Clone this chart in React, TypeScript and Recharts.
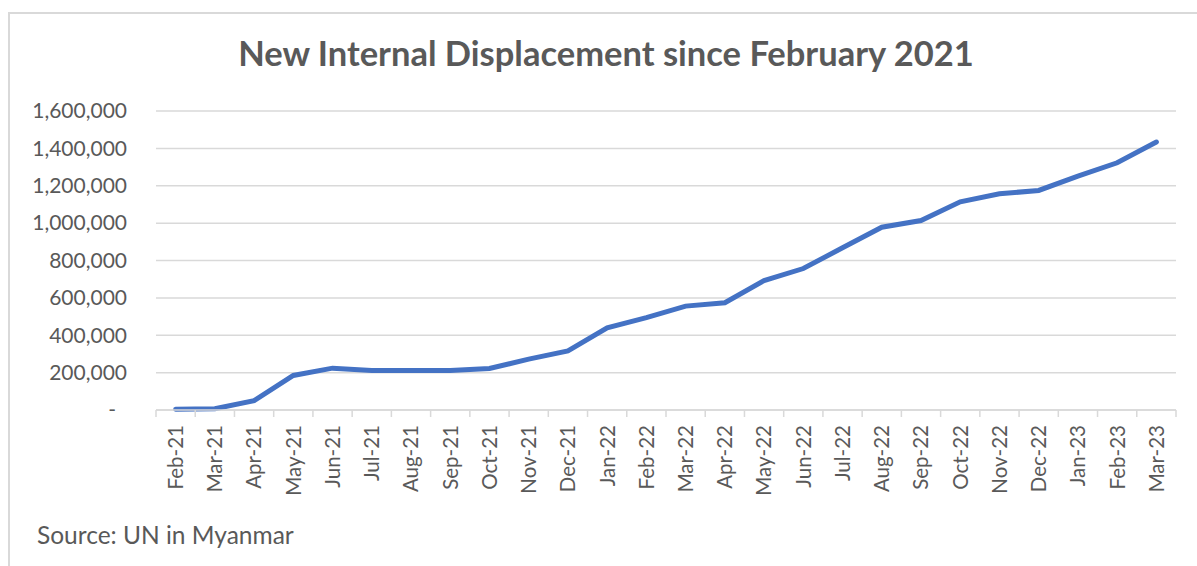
import React from "react";
import { CartesianGrid, Line, LineChart, XAxis, YAxis } from "recharts";

const months = [
  "Feb-21", "Mar-21", "Apr-21", "May-21", "Jun-21", "Jul-21", "Aug-21", "Sep-21", "Oct-21",
  "Nov-21", "Dec-21", "Jan-22", "Feb-22", "Mar-22", "Apr-22", "May-22", "Jun-22", "Jul-22",
  "Aug-22", "Sep-22", "Oct-22", "Nov-22", "Dec-22", "Jan-23", "Feb-23", "Mar-23",
];

const displaced = [
  4000, 7000, 50000, 185000, 224000, 211000, 211000, 212000, 222000,
  272000, 316000, 440000, 494000, 556000, 574000, 693000, 757000, 868000,
  978000, 1014000, 1114000, 1157000, 1175000, 1252000, 1323000, 1434000,
];

const yTicks = [0, 200000, 400000, 600000, 800000, 1000000, 1200000, 1400000, 1600000];

const data = months.map((m, i) => ({ month: m, value: displaced[i] }));

const FONT = "Lato, 'Open Sans', sans-serif";
const TEXT = "#595959";
const GRID = "#d9d9d9";
const BAND = 1020 / months.length;

function MonthTick(props: any) {
  const { x, y, payload, index } = props;
  const half = BAND / 2;
  return (
    <g>
      <line x1={x - half} x2={x - half} y1={y} y2={y + 7} stroke={GRID} strokeWidth={1.5} />
      {index === months.length - 1 && (
        <line x1={x + half} x2={x + half} y1={y} y2={y + 7} stroke={GRID} strokeWidth={1.5} />
      )}
      <text
        x={x}
        y={y + 15}
        dy="0.36em"
        textAnchor="end"
        transform={`rotate(-90, ${x}, ${y + 15})`}
        fill={TEXT}
        fontSize={20.5}
        fontFamily={FONT}
      >
        {payload.value}
      </text>
    </g>
  );
}

function ValueTick(props: any) {
  const { x, y, payload } = props;
  const v = payload.value as number;
  const label = v === 0 ? "-" : v.toLocaleString("en-US");
  return (
    <text
      x={v === 0 ? x - 11 : x}
      y={y}
      dy="0.35em"
      textAnchor="end"
      fill={TEXT}
      fontSize={21}
      fontFamily={FONT}
    >
      {label}
    </text>
  );
}

export default function App() {
  return (
    <div style={{ position: "fixed", left: 0, top: 0, width: 1197, height: 566, background: "#fff", overflow: "hidden" }}>
      <div
        style={{
          position: "absolute",
          left: 8,
          top: 12,
          width: 1300,
          height: 600,
          borderLeft: `2px solid ${GRID}`,
          borderTop: `2px solid ${GRID}`,
        }}
      />
      <div
        style={{
          position: "absolute",
          left: 0,
          width: 1212,
          top: 32,
          textAlign: "center",
          fontFamily: FONT,
          fontWeight: 700,
          fontSize: 34.5,
          color: TEXT,
        }}
      >
        New Internal Displacement since February 2021
      </div>
      <LineChart
        width={1197}
        height={566}
        data={data}
        margin={{ top: 111, right: 21, bottom: 56, left: 56 }}
        style={{ position: "absolute", left: 0, top: 0 }}
      >
        <CartesianGrid vertical={false} stroke={GRID} strokeWidth={1.5} />
        <XAxis
          dataKey="month"
          height={100}
          interval={0}
          padding={{ left: BAND / 2, right: BAND / 2 }}
          axisLine={{ stroke: GRID, strokeWidth: 1.5 }}
          tickLine={false}
          tickSize={0}
          tickMargin={0}
          tick={<MonthTick />}
        />
        <YAxis
          width={100}
          domain={[0, 1600000]}
          ticks={yTicks}
          axisLine={false}
          tickLine={false}
          tickSize={0}
          tickMargin={29}
          tick={<ValueTick />}
        />
        <Line
          type="linear"
          dataKey="value"
          stroke="#4472C4"
          strokeWidth={5}
          strokeLinecap="round"
          dot={false}
          isAnimationActive={false}
        />
      </LineChart>
      <div
        style={{
          position: "absolute",
          left: 37,
          top: 520,
          fontFamily: FONT,
          fontSize: 24.5,
          color: TEXT,
        }}
      >
        Source: UN in Myanmar
      </div>
    </div>
  );
}
